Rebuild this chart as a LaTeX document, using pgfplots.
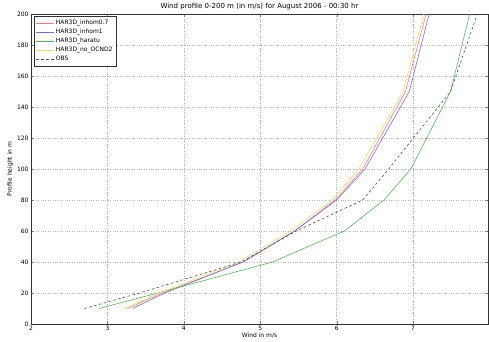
\documentclass[border=0pt]{standalone}
\usepackage{pgfplots}
\pgfplotsset{compat=1.18}
\usepackage{fontspec}
\setmainfont{DejaVu Sans}
\definecolor{cred}{RGB}{255,120,120}
\definecolor{cblue}{RGB}{110,110,255}
\definecolor{cgreen}{RGB}{90,180,90}
\definecolor{cyellow}{RGB}{225,225,100}
\begin{document}
\begin{tikzpicture}
\begin{axis}[
  name=ax,
  scale only axis,
  width=457pt, height=310pt,
  xmin=2, xmax=7.98, ymin=0, ymax=200,
  xtick={2,3,4,5,6,7},
  ytick={0,20,...,200},
  grid=major,
  grid style={gray!60, dotted},
  tick align=inside,
  major tick length=3pt,
  axis line style={black!80},
  /pgf/number format/assume math mode=true,
  tick label style={font=\fontsize{6}{7}\selectfont},
  xticklabel style={yshift=1pt},
  yticklabel style={xshift=1pt},
  title={Wind profile 0-200 m (in m/s) for August 2006 - 00:30 hr},
  title style={font=\fontsize{7}{8}\selectfont, yshift=-5pt},
  xlabel={Wind in m/s},
  ylabel={Profile height in m},
  label style={font=\fontsize{6}{7}\selectfont},
  xlabel style={yshift=5pt},
  ylabel style={yshift=-3pt},
  legend style={at={(0.006,0.994)}, anchor=north west, font=\fontsize{6}{7}\selectfont,
    draw=black!80, line width=0.6pt, row sep=-1pt, inner sep=2pt},
  legend cell align=left,
  legend image post style={line width=0.8pt},
  every axis plot/.append style={line width=0.6pt},
]
\addplot[cred] coordinates {(3.26,10) (3.72,20) (4.78,40) (5.45,60) (5.98,80) (6.34,100) (6.90,150) (7.17,200)};
\addlegendentry{HAR3D\_inhom0.7}
\addplot[cblue] coordinates {(3.33,10) (3.75,20) (4.77,40) (5.45,60) (6.00,80) (6.37,100) (6.95,150) (7.21,200)};
\addlegendentry{HAR3D\_inhom1}
\addplot[cgreen] coordinates {(2.89,10) (3.66,20) (5.16,40) (6.10,60) (6.62,80) (6.97,100) (7.49,150) (7.74,200)};
\addlegendentry{HAR3D\_haratu}
\addplot[cyellow] coordinates {(3.22,10) (3.68,20) (4.72,40) (5.40,60) (5.94,80) (6.29,100) (6.87,150) (7.14,200)};
\addlegendentry{HAR3D\_no\_OCND2}
\addplot[black!70, dashed, dash pattern=on 2.5pt off 2.5pt] coordinates {(2.70,10) (3.42,20) (4.75,40) (5.47,60) (6.34,80) (6.68,100) (7.49,150) (7.84,200)};
\addlegendentry{OBS}
\end{axis}
\pgfresetboundingbox
\path ([xshift=-31pt,yshift=-18pt]ax.south west) rectangle ([xshift=1pt,yshift=14pt]ax.north east);
\end{tikzpicture}
\end{document}
